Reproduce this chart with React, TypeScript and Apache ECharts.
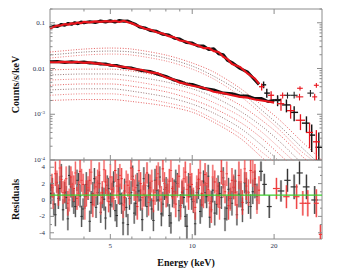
import React, { useEffect, useRef } from 'react';
import * as echarts from 'echarts';

const FONT = "'Liberation Serif', 'DejaVu Serif', serif";

// ---- spectra (keV, counts/s/keV) ----
const upperE = [3.0,3.1,3.2,3.3,3.4,3.5,3.6,3.7,3.8,3.9,4.0,4.2,4.4,4.6,4.8,5.0,5.2,5.4,5.6,5.8,6.0,6.2,6.4,6.7,7.0,7.4,7.8,8.2,8.6,9.0,9.5,10,10.5,11,11.5,12,12.5,13,13.5,14,15,16,17,17.6];
const upperBlack = [0.077,0.085,0.083,0.092,0.088,0.097,0.092,0.101,0.095,0.104,0.100,0.106,0.101,0.109,0.104,0.111,0.103,0.112,0.108,0.109,0.099,0.092,0.081,0.077,0.068,0.065,0.056,0.054,0.046,0.044,0.037,0.036,0.031,0.031,0.026,0.027,0.021,0.020,0.0150,0.0135,0.0100,0.0083,0.0056,0.0045];
const upperRed = [0.075,0.082,0.087,0.088,0.093,0.091,0.097,0.096,0.101,0.098,0.105,0.102,0.107,0.105,0.109,0.106,0.110,0.104,0.111,0.103,0.097,0.089,0.084,0.074,0.071,0.062,0.058,0.051,0.048,0.041,0.039,0.034,0.032,0.028,0.028,0.024,0.023,0.018,0.016,0.0125,0.0108,0.0077,0.0060,0.0046];

const lowerE = [3.0,3.2,3.4,3.6,3.8,4.0,4.2,4.4,4.6,4.8,5.0,5.3,5.6,6.0,6.5,7.0,7.5,8.0,8.5,9.0,9.5,10,11,12,13,14,15,16,17,18,19,20];
const lowerBlack = [0.0140,0.0143,0.0136,0.0141,0.0135,0.0139,0.0132,0.0132,0.0125,0.0126,0.0118,0.0116,0.0105,0.0102,0.0090,0.0086,0.0075,0.0067,0.0057,0.0052,0.0046,0.0045,0.0037,0.0034,0.0029,0.0028,0.0025,0.0025,0.0022,0.0022,0.0019,0.0020];
const lowerRed = [0.0137,0.0138,0.0140,0.0136,0.0139,0.0133,0.0136,0.0128,0.0129,0.0121,0.0120,0.0112,0.0109,0.0098,0.0094,0.0082,0.0078,0.0064,0.0058,0.0049,0.0046,0.0042,0.0038,0.0031,0.0029,0.0026,0.0024,0.0023,0.0021,0.0020,0.0019,0.0018];

// high-energy binned points: [E, value, Elo, Ehi, vlo, vhi]
const upperBlackBins = [
  [18.3,0.0044,17.9,18.7,0.0037,0.0052],[18.8,0.0029,18.4,19.3,0.0023,0.0036],[20.6,0.0020,20.0,21.2,0.0015,0.0026],
  [22.2,0.0016,21.4,23.0,0.0011,0.0021],[23.7,0.0011,23.0,24.5,0.0007,0.0015],[26.3,0.00064,25.3,27.0,0.0004,0.0009],
  [27.5,0.00035,27.0,28.3,0.00015,0.0006],[29.2,0.00019,28.4,30.0,0.00003,0.0004],
];
const upperRedBins = [
  [18.0,0.0040,17.6,18.4,0.0033,0.0047],[19.5,0.0026,19.0,20.0,0.0020,0.0032],[21.2,0.0017,20.5,21.8,0.0012,0.0022],
  [23.0,0.0012,22.3,23.8,0.0008,0.0016],[25.0,0.00074,24.0,26.0,0.00045,0.0010],[27.0,0.0004,26.2,27.8,0.00018,0.00065],
  [28.6,0.00025,27.8,29.5,0.00006,0.00045],
];
const lowerBlackBins = [
  [20.6,0.0021,20.0,21.2,0.0018,0.0024],[22.4,0.0026,21.8,23.0,0.0022,0.0030],[23.7,0.0026,23.0,24.4,0.0022,0.0031],[27.2,0.0029,26.5,28.0,0.0024,0.0034],
];
const lowerRedBins = [
  [21.5,0.0026,21.0,22.0,0.0022,0.0030],[24.8,0.0024,24.0,25.6,0.0020,0.0028],[28.2,0.0024,27.6,28.8,0.0020,0.0028],
  [28.6,0.0043,28.0,29.2,0.0038,0.0048],[24.9,0.0037,24.3,25.5,0.0033,0.0041],
];

// ---- model components (dotted) ----
const modelE = [3,4,5,6,8,10,12,15,18,21,25,30];
const comp1 = [0.0229,0.0266,0.0280,0.0266,0.0197,0.0132,0.0084,0.0037,0.00159,0.00074,0.00027,0.0000993];
const comp2 = [0.0197,0.0229,0.0241,0.0229,0.0169,0.0113,0.0068,0.0031,0.00123,0.00055,0.00020,0.000073];
const comp3 = [0.0169,0.0197,0.0207,0.0197,0.0146,0.0097,0.0059,0.0025,0.00101,0.00045,0.00016,0.00007];
const comp4 = [0.0093,0.0097,0.0097,0.0088,0.0065,0.0046,0.0031,0.00159,0.00074,0.00035,0.00013,0.00005];
const comp5 = [0.0072,0.0076,0.0076,0.0068,0.0051,0.0036,0.0024,0.00117,0.00055,0.00025,0.00009,0.00003];
const comp6 = [0.0056,0.0059,0.0059,0.0053,0.0039,0.0028,0.0018,0.00091,0.00041,0.00018,0.00007,0.00003];
const comp7 = [0.0043,0.0046,0.0046,0.0041,0.0031,0.0021,0.00136,0.00067,0.00030,0.00013,0.00005,0.00002];
const comp8 = [0.0034,0.0036,0.0036,0.0032,0.0024,0.00167,0.00106,0.00050,0.00021,0.00009,0.00003,0.00001];
const comp9 = [0.0026,0.0028,0.0028,0.0025,0.0018,0.0013,0.00078,0.00037,0.00015,0.00007,0.00002,0.00001];
const comp10 = [0.0020,0.0021,0.0021,0.0019,0.00151,0.00111,0.00067,0.00030,0.000115,0.00005,0.00002,0.00001];
const components = [comp1, comp2, comp3, comp4, comp5, comp6, comp7, comp8, comp9, comp10];
const componentColors = ['#e04848','#7a5a5a','#e86a6a','#e04848','#8a6060','#e86a6a','#e04848','#8a6060','#e86a6a','#e04848'];

// ---- residuals: [E, value, error] ----
const blackResiduals = [
  [3.02,0.8,1.3],[3.1,-0.5,1.4],[3.18,2.1,1.2],[3.26,1.4,1.5],[3.35,-1.2,1.3],[3.44,0.3,1.4],[3.53,3.0,1.2],[3.62,0.6,1.5],
  [3.72,-0.8,1.3],[3.82,1.9,1.4],[3.92,-2.0,1.3],[4.03,0.4,1.5],[4.14,1.2,1.2],[4.25,-0.3,1.4],[4.37,2.6,1.3],[4.49,0.9,1.5],
  [4.61,-1.5,1.3],[4.74,0.1,1.4],[4.87,1.8,1.2],[5.0,-0.6,1.5],[5.14,2.2,1.3],[5.28,-1.9,1.4],[5.42,0.7,1.3],[5.57,-2.8,1.5],
  [5.72,-0.9,1.2],[5.88,0.2,1.4],[6.04,2.9,1.3],[6.2,-0.4,1.5],[6.37,1.1,1.3],[6.55,-2.4,1.4],[6.73,0.5,1.3],[6.91,1.7,1.5],
  [7.1,-1.1,1.3],[7.3,2.4,1.4],[7.5,0.0,1.3],[7.7,-1.7,1.5],[7.91,1.3,1.3],[8.13,0.6,1.4],[8.35,-2.8,1.3],[8.58,1.0,1.5],
  [8.82,2.0,1.3],[9.06,-0.7,1.4],[9.31,0.3,1.3],[9.56,-3.2,1.5],[9.83,1.6,1.3],[10.1,-0.2,1.4],[10.4,0.9,1.3],[10.7,-1.4,1.5],
  [11.0,2.3,1.3],[11.3,0.4,1.4],[11.6,-2.1,1.3],[11.9,1.2,1.5],[12.3,-0.5,1.3],[12.6,0.8,1.4],[13.0,2.7,1.3],[13.4,-1.0,1.5],
  [13.8,0.2,1.3],[14.2,1.5,1.4],[14.6,-1.8,1.3],[15.1,0.6,1.5],[15.6,2.1,1.3],[16.1,-0.3,1.4],[16.7,1.0,1.5],[17.3,0.4,1.6],
];
const blackResidualsB = [
  [3.06,1.5,1.2],[3.14,-1.8,1.4],[3.22,0.2,1.3],[3.3,2.9,1.5],[3.4,0.9,1.3],[3.49,-2.3,1.4],[3.58,1.6,1.3],[3.67,-0.2,1.5],
  [3.77,2.4,1.3],[3.87,0.5,1.4],[3.97,-1.1,1.3],[4.08,1.9,1.5],[4.2,-2.6,1.3],[4.31,0.8,1.4],[4.43,-0.9,1.3],[4.55,2.0,1.5],
  [4.67,0.3,1.3],[4.8,-2.2,1.4],[4.93,1.4,1.3],[5.07,0.6,1.5],[5.21,-1.3,1.3],[5.35,2.5,1.4],[5.5,-0.4,1.3],[5.64,1.1,1.5],
  [5.8,-3.0,1.3],[5.96,0.9,1.4],[6.12,-1.6,1.3],[6.28,1.8,1.5],[6.46,0.0,1.3],[6.64,2.6,1.4],[6.82,-0.8,1.3],[7.0,0.7,1.5],
  [7.2,-2.5,1.3],[7.4,1.2,1.4],[7.6,2.8,1.3],[7.8,-0.5,1.5],[8.02,1.5,1.3],[8.24,-1.9,1.4],[8.46,0.4,1.3],[8.7,2.2,1.5],
  [8.94,-1.3,1.3],[9.18,0.9,1.4],[9.43,-2.0,1.3],[9.7,1.8,1.5],[9.96,0.1,1.3],[10.25,-2.9,1.4],[10.55,1.4,1.3],[10.85,-0.6,1.5],
  [11.15,0.9,1.3],[11.45,2.9,1.4],[11.75,-0.2,1.3],[12.1,-1.6,1.5],[12.45,1.7,1.3],[12.8,0.3,1.4],[13.2,-2.3,1.5],[13.6,1.3,1.4],
  [14.0,-0.4,1.5],[14.4,2.3,1.4],[14.85,0.7,1.6],[15.3,-1.2,1.5],[15.8,1.1,1.6],[16.4,-0.8,1.5],[17.0,1.9,1.7],
];
const redResiduals = [
  [3.05,1.8,1.4],[3.14,3.2,1.5],[3.22,0.6,1.3],[3.3,2.5,1.6],[3.4,1.1,1.4],[3.49,-0.4,1.5],[3.58,2.8,1.3],[3.67,1.4,1.6],
  [3.77,0.2,1.4],[3.87,3.5,1.5],[3.97,1.9,1.3],[4.08,0.8,1.6],[4.2,2.4,1.4],[4.31,-0.6,1.5],[4.43,1.6,1.3],[4.55,3.0,1.6],
  [4.67,0.9,1.4],[4.8,2.2,1.5],[4.93,-0.2,1.3],[5.07,1.3,1.6],[5.21,3.6,1.4],[5.35,1.0,1.5],[5.5,2.6,1.3],[5.64,0.3,1.6],
  [5.8,1.8,1.4],[5.96,3.9,1.5],[6.12,1.2,1.3],[6.28,-0.8,1.6],[6.46,2.0,1.4],[6.64,0.7,1.5],[6.82,3.3,1.3],[7.0,1.5,1.6],
  [7.2,-0.1,1.4],[7.4,2.7,1.5],[7.6,1.1,1.3],[7.8,3.8,1.6],[8.02,0.5,1.4],[8.24,2.3,1.5],[8.46,1.4,1.3],[8.7,-0.5,1.6],
  [8.94,2.9,1.4],[9.18,1.0,1.5],[9.43,3.4,1.3],[9.7,0.4,1.6],[9.96,1.9,1.4],[10.25,-0.9,1.5],[10.55,2.5,1.3],[10.85,0.8,1.6],
  [11.15,3.1,1.4],[11.45,1.3,1.5],[11.75,-1.2,1.6],[12.1,2.2,1.4],[12.45,0.6,1.5],[12.8,3.5,1.6],[13.2,1.0,1.4],[13.6,-0.7,1.7],
  [14.0,2.4,1.5],[14.4,0.9,1.6],[14.85,3.0,1.7],[15.3,-0.3,1.5],[15.8,1.7,1.7],[16.4,3.6,1.6],[17.0,2.6,1.8],[17.6,1.2,1.7],
];
const redResidualsB = [
  [3.08,0.4,1.5],[3.18,2.2,1.4],[3.26,3.9,1.6],[3.35,0.9,1.4],[3.44,2.6,1.5],[3.53,0.0,1.4],[3.62,1.9,1.6],[3.72,3.3,1.4],
  [3.82,0.8,1.5],[3.92,2.4,1.4],[4.03,-0.8,1.6],[4.14,1.5,1.4],[4.25,3.4,1.5],[4.37,0.6,1.4],[4.49,2.1,1.6],[4.61,-0.4,1.4],
  [4.74,3.7,1.5],[4.87,1.2,1.4],[5.0,2.8,1.6],[5.14,0.2,1.4],[5.28,1.7,1.5],[5.42,3.0,1.4],[5.57,-0.6,1.6],[5.72,2.2,1.4],
  [5.88,0.9,1.5],[6.04,2.5,1.4],[6.2,1.5,1.6],[6.37,3.6,1.4],[6.55,0.3,1.5],[6.73,1.8,1.4],[6.91,-0.3,1.6],[7.1,2.3,1.4],
  [7.3,0.9,1.5],[7.5,3.2,1.4],[7.7,0.1,1.6],[7.91,2.0,1.4],[8.13,1.1,1.5],[8.35,3.6,1.4],[8.58,0.6,1.6],[8.82,1.7,1.4],
  [9.06,-0.9,1.5],[9.31,2.6,1.4],[9.56,1.3,1.6],[9.83,3.1,1.4],[10.1,0.0,1.5],[10.4,1.6,1.4],[10.7,3.3,1.6],[11.0,0.5,1.5],
  [11.3,2.0,1.4],[11.6,-0.4,1.6],[11.9,2.8,1.5],[12.3,1.1,1.6],[12.6,-0.9,1.5],[13.0,1.9,1.6],[13.4,3.2,1.5],[13.8,0.4,1.7],
  [14.2,1.6,1.5],[14.6,-0.6,1.7],[15.1,2.2,1.6],[15.6,3.8,1.7],[16.1,0.9,1.6],[16.7,3.4,1.8],[17.3,0.0,1.7],
];
// [E, value, Elo, Ehi, error]
const blackResidualBins = [
  [17.9,3.5,17.6,18.2,1.2],[18.4,1.9,18.1,18.8,1.3],[19.2,-0.8,18.8,19.6,1.4],[21.2,1.1,20.6,21.8,1.3],[22.4,2.4,21.8,23.0,1.4],
  [23.7,1.6,23.0,24.4,1.5],[24.8,3.3,24.2,25.5,1.4],[26.3,1.6,25.5,27.0,1.5],[28.2,0.0,27.4,29.0,1.7],
];
const redResidualBins = [
  [20.4,1.4,19.8,21.0,1.3],[22.2,0.4,21.6,22.8,1.4],[24.2,0.4,23.6,24.8,1.5],[25.5,-0.4,24.8,26.2,1.5],
  [26.6,-0.4,26.0,27.2,1.6],[28.6,-0.4,28.0,29.2,1.7],[29.6,-4.2,29.2,30.0,1.2],
];
const greenLevel = 0.6;

// ---- ticks ----
const xMajorTicks = [5, 10, 20];
const xMinorTicks = [4, 6, 7, 8, 9];
const xTickLabels = [5, 10, 20];
const yMajorTicks = [1e-4, 1e-3, 1e-2, 1e-1];
const yMinorTicks = [2e-4,3e-4,4e-4,5e-4,6e-4,7e-4,8e-4,9e-4,2e-3,3e-3,4e-3,5e-3,6e-3,7e-3,8e-3,9e-3,2e-2,3e-2,4e-2,5e-2,6e-2,7e-2,8e-2,9e-2,0.2];
const residualMajorTicks = [-4, -2, 0, 2, 4];
const residualMinorTicks = [-3, -1, 1, 3];

const FRAME = '#8c8c8c';

function pair(xs: number[], ys: number[]) {
  return xs.map((x, i) => [x, ys[i]]);
}

function yTickRender(len: number) {
  return (params: any, api: any) => {
    const cs = params.coordSys;
    const p = api.coord([api.value(0), api.value(1)]);
    const st = { stroke: FRAME, lineWidth: 1 };
    return {
      type: 'group',
      children: [
        { type: 'line', shape: { x1: cs.x, y1: p[1], x2: cs.x + len, y2: p[1] }, style: st },
        { type: 'line', shape: { x1: cs.x + cs.width, y1: p[1], x2: cs.x + cs.width - len, y2: p[1] }, style: st },
      ],
    };
  };
}
function xTickRender(len: number) {
  return (params: any, api: any) => {
    const cs = params.coordSys;
    const p = api.coord([api.value(0), api.value(1)]);
    const st = { stroke: FRAME, lineWidth: 1 };
    return {
      type: 'group',
      children: [
        { type: 'line', shape: { x1: p[0], y1: cs.y, x2: p[0], y2: cs.y + len }, style: st },
        { type: 'line', shape: { x1: p[0], y1: cs.y + cs.height, x2: p[0], y2: cs.y + cs.height - len }, style: st },
      ],
    };
  };
}
function crossRender(color: string, width: number) {
  return (_params: any, api: any) => {
    const x = api.value(0), y = api.value(1);
    const pL = api.coord([api.value(2), y]);
    const pH = api.coord([api.value(3), y]);
    const pB = api.coord([x, api.value(4)]);
    const pT = api.coord([x, api.value(5)]);
    return {
      type: 'group',
      children: [
        { type: 'line', shape: { x1: pL[0], y1: pL[1], x2: pH[0], y2: pH[1] }, style: { stroke: color, lineWidth: width } },
        { type: 'line', shape: { x1: pB[0], y1: pB[1], x2: pT[0], y2: pT[1] }, style: { stroke: color, lineWidth: width } },
      ],
    };
  };
}
function residualRender(core: string, halo: string) {
  return (_params: any, api: any) => {
    const x = api.value(0), y = api.value(1), e = api.value(2);
    const pB = api.coord([x, y - e]);
    const pT = api.coord([x, y + e]);
    const pC = api.coord([x, y]);
    return {
      type: 'group',
      children: [
        { type: 'line', shape: { x1: pB[0], y1: pB[1], x2: pT[0], y2: pT[1] }, style: { stroke: halo, lineWidth: 2.2 } },
        { type: 'line', shape: { x1: pB[0], y1: pB[1], x2: pT[0], y2: pT[1] }, style: { stroke: core, lineWidth: 0.8 } },
        { type: 'line', shape: { x1: pC[0] - 1.2, y1: pC[1], x2: pC[0] + 1.2, y2: pC[1] }, style: { stroke: core, lineWidth: 1 } },
      ],
    };
  };
}
function residualBinRender(color: string, halo: string) {
  return (_params: any, api: any) => {
    const x = api.value(0), y = api.value(1), e = api.value(4);
    const pL = api.coord([api.value(2), y]);
    const pH = api.coord([api.value(3), y]);
    const pB = api.coord([x, y - e]);
    const pT = api.coord([x, y + e]);
    return {
      type: 'group',
      children: [
        { type: 'line', shape: { x1: pB[0], y1: pB[1], x2: pT[0], y2: pT[1] }, style: { stroke: halo, lineWidth: 2.4 } },
        { type: 'line', shape: { x1: pB[0], y1: pB[1], x2: pT[0], y2: pT[1] }, style: { stroke: color, lineWidth: 1 } },
        { type: 'line', shape: { x1: pL[0], y1: pL[1], x2: pH[0], y2: pH[1] }, style: { stroke: color, lineWidth: 1.2 } },
      ],
    };
  };
}

function buildOption(): any {
  const axisTitle = { fontFamily: FONT, fontWeight: 'bold', fontSize: 10, color: '#111' };
  const tickLabel = { fontFamily: FONT, fontSize: 7, color: '#2a3350' };
  const hidden = { axisLine: { show: false }, axisTick: { show: false }, splitLine: { show: false } };

  const series: any[] = [];
  components.forEach((c, i) => {
    series.push({
      type: 'line', xAxisIndex: 0, yAxisIndex: 0, data: pair(modelE, c), symbol: 'none', smooth: 0.3,
      lineStyle: { color: componentColors[i], width: 1, type: [1, 1.6], opacity: 0.85 }, silent: true,
    });
  });
  const spec = (xs: number[], ys: number[], color: string, w: number) => ({
    type: 'line', xAxisIndex: 0, yAxisIndex: 0, data: pair(xs, ys), symbol: 'none',
    lineStyle: { color, width: w }, silent: true,
  });
  series.push(spec(upperE, upperBlack, '#111', 3));
  series.push(spec(upperE, upperRed, '#e8141c', 2.2));
  series.push(spec(lowerE, lowerBlack, '#111', 3));
  series.push(spec(lowerE, lowerRed, '#e8141c', 2.2));
  const cross = (data: number[][], color: string, w: number) => ({
    type: 'custom', xAxisIndex: 0, yAxisIndex: 0, data, encode: { x: 0, y: 1 }, clip: true, silent: true,
    renderItem: crossRender(color, w),
  });
  series.push(cross(upperBlackBins, '#111', 1.4));
  series.push(cross(upperRedBins, '#e8141c', 1.3));
  series.push(cross(lowerBlackBins, '#222', 1.1));
  series.push(cross(lowerRedBins, '#e8141c', 1.1));

  // residuals
  const resid = (data: number[][], core: string, halo: string) => ({
    type: 'custom', xAxisIndex: 1, yAxisIndex: 1, data, encode: { x: 0, y: 1 }, clip: true, silent: true,
    renderItem: residualRender(core, halo),
  });
  series.push(resid(blackResiduals, '#2b2b2b', 'rgba(60,60,60,0.3)'));
  series.push(resid(blackResidualsB, '#3a3a3a', 'rgba(60,60,60,0.3)'));
  series.push(resid(redResiduals, '#ea2a2a', 'rgba(240,90,90,0.4)'));
  series.push(resid(redResidualsB, '#f04848', 'rgba(245,120,120,0.4)'));
  series.push({
    type: 'custom', xAxisIndex: 1, yAxisIndex: 1, data: blackResidualBins, encode: { x: 0, y: 1 }, clip: true, silent: true,
    renderItem: residualBinRender('#333', 'rgba(80,80,80,0.35)'),
  });
  series.push({
    type: 'custom', xAxisIndex: 1, yAxisIndex: 1, data: redResidualBins, encode: { x: 0, y: 1 }, clip: true, silent: true,
    renderItem: residualBinRender('#ee3b3b', 'rgba(240,100,100,0.4)'),
  });
  series.push({
    type: 'line', xAxisIndex: 1, yAxisIndex: 1, data: [[3, greenLevel], [30, greenLevel]], symbol: 'none',
    lineStyle: { color: '#3ccf2e', width: 1.3 }, silent: true, z: 4,
  });

  // ticks
  const tickSeries = (xi: number, data: number[][], render: any) => ({
    type: 'custom', xAxisIndex: xi, yAxisIndex: xi, data, encode: { x: 0, y: 1 }, clip: false, silent: true, z: 6,
    renderItem: render,
  });
  series.push(tickSeries(0, yMajorTicks.map(v => [3, v]), yTickRender(5)));
  series.push(tickSeries(0, yMinorTicks.map(v => [3, v]), yTickRender(2.5)));
  series.push(tickSeries(0, xMajorTicks.map(v => [v, 0.01]), xTickRender(5)));
  series.push(tickSeries(0, xMinorTicks.map(v => [v, 0.01]), xTickRender(2.5)));
  series.push(tickSeries(1, residualMajorTicks.map(v => [3, v]), yTickRender(4)));
  series.push(tickSeries(1, residualMinorTicks.map(v => [3, v]), yTickRender(2)));
  series.push(tickSeries(1, xMajorTicks.map(v => [v, 0]), xTickRender(5)));
  series.push(tickSeries(1, xMinorTicks.map(v => [v, 0]), xTickRender(2.5)));
  series.push({
    type: 'custom', xAxisIndex: 1, yAxisIndex: 1, data: xTickLabels.map(v => [v, 0]), encode: { x: 0, y: 1 },
    clip: false, silent: true, z: 6,
    renderItem: (params: any, api: any) => {
      const cs = params.coordSys;
      const p = api.coord([api.value(0), api.value(1)]);
      return {
        type: 'text', x: p[0], y: cs.y + cs.height + 3,
        style: { text: String(api.value(0)), fill: '#2a3350', fontFamily: FONT, fontSize: 7, align: 'center', verticalAlign: 'top' },
      };
    },
  });

  return {
    animation: false,
    backgroundColor: '#fff',
    grid: [
      { left: 50, top: 9, width: 272, height: 151, show: true, borderColor: FRAME, borderWidth: 1, backgroundColor: 'transparent' },
      { left: 50, top: 160, width: 272, height: 82, show: true, borderColor: FRAME, borderWidth: 1, backgroundColor: 'transparent' },
    ],
    xAxis: [
      { type: 'log', gridIndex: 0, min: 3, max: 30, logBase: 10, ...hidden, axisLabel: { show: false } },
      {
        type: 'log', gridIndex: 1, min: 3, max: 30, logBase: 10, ...hidden, axisLabel: { show: false },
        name: 'Energy (keV)', nameLocation: 'middle', nameGap: 18, nameTextStyle: axisTitle,
      },
    ],
    yAxis: [
      {
        type: 'log', gridIndex: 0, min: 1e-4, max: 0.2, logBase: 10, ...hidden,
        axisLabel: {
          ...tickLabel, margin: 5,
          formatter: (v: number) => {
            const e = Math.log10(v);
            const r = Math.round(e);
            if (Math.abs(e - r) > 1e-6) return '';
            if (r === -1) return '0.1';
            if (r === -2) return '0.01';
            return `{b|10}{s|${r}}`;
          },
          rich: {
            b: { fontFamily: FONT, fontSize: 7, color: '#2a3350', lineHeight: 9 },
            s: { fontFamily: FONT, fontSize: 5, color: '#2a3350', verticalAlign: 'top', lineHeight: 5 },
          },
        },
        name: 'Counts/s/keV', nameLocation: 'middle', nameGap: 30, nameRotate: 90, nameTextStyle: axisTitle,
      },
      {
        type: 'value', gridIndex: 1, min: -4.76, max: 4.88, ...hidden,
        axisLabel: {
          ...tickLabel, margin: 5,
          formatter: (v: number) => (Math.abs(v - Math.round(v)) < 1e-6 && Math.round(v) % 2 === 0 ? String(Math.round(v)) : ''),
        },
        name: 'Residuals', nameLocation: 'middle', nameGap: 30, nameRotate: 90, nameTextStyle: axisTitle,
      },
    ],
    series,
  };
}

export default function App() {
  const ref = useRef<HTMLDivElement>(null);
  useEffect(() => {
    if (!ref.current) return;
    const chart = echarts.init(ref.current, undefined, { renderer: 'svg' });
    chart.setOption(buildOption());
    return () => chart.dispose();
  }, []);
  return (
    <div
      ref={ref}
      style={{ position: 'fixed', left: 0, top: 0, width: 337, height: 268, background: '#fff' }}
    />
  );
}
